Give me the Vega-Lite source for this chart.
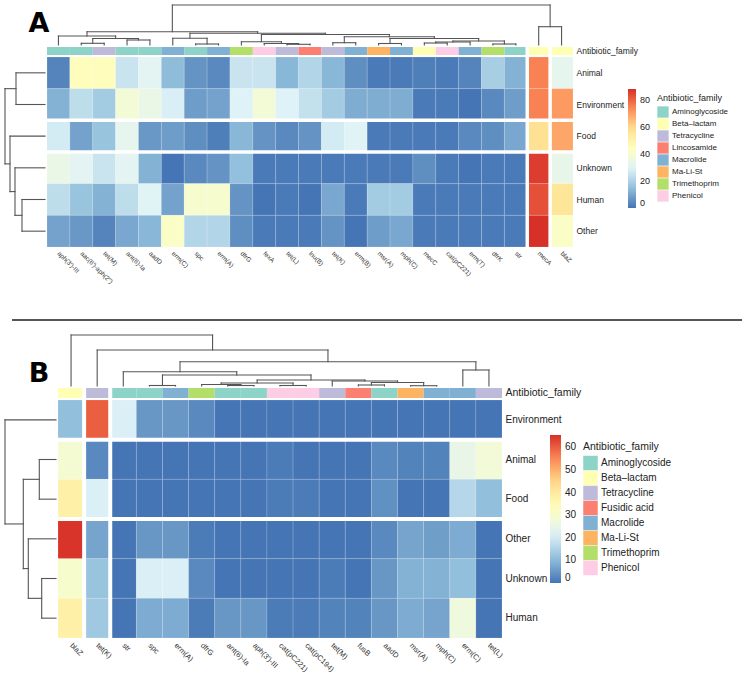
{
 "$schema": "https://vega.github.io/schema/vega-lite/v6.json",
 "padding": 0,
 "background": "white",
 "config": {
  "view": {"stroke": null},
  "font": "Liberation Sans",
  "axis": {"labelFont": "Liberation Sans", "labelColor": "#222222"},
  "legend": {"labelFont": "Liberation Sans", "titleFont": "Liberation Sans"}
 },
 "datasets": {
  "dendA_col": [
   {"p1":1.5,"h1":0,"p2":2.5,"h2":0,"H":1.7},
   {"p1":3.5,"h1":0,"p2":4.5,"h2":0,"H":5},
   {"p1":2.0,"h1":1.7,"p2":4.0,"h2":5,"H":6.5},
   {"p1":0.5,"h1":0,"p2":3.0,"h2":6.5,"H":9},
   {"p1":6.5,"h1":0,"p2":7.5,"h2":0,"H":1},
   {"p1":5.5,"h1":0,"p2":7.0,"h2":1,"H":6.7},
   {"p1":10.5,"h1":0,"p2":11.5,"h2":0,"H":0.7},
   {"p1":9.5,"h1":0,"p2":11.0,"h2":0.7,"H":1.5},
   {"p1":8.5,"h1":0,"p2":10.25,"h2":1.5,"H":3.3},
   {"p1":12.5,"h1":0,"p2":13.5,"h2":0,"H":2.3},
   {"p1":14.5,"h1":0,"p2":15.5,"h2":0,"H":1.5},
   {"p1":16.5,"h1":0,"p2":17.5,"h2":0,"H":2},
   {"p1":17.0,"h1":2,"p2":18.5,"h2":0,"H":3},
   {"p1":19.5,"h1":0,"p2":20.5,"h2":0,"H":1},
   {"p1":17.75,"h1":3,"p2":20.0,"h2":1,"H":4},
   {"p1":15.0,"h1":1.5,"p2":18.875,"h2":4,"H":6.5},
   {"p1":13.0,"h1":2.3,"p2":16.9375,"h2":6.5,"H":8.3},
   {"p1":9.375,"h1":3.3,"p2":14.96875,"h2":8.3,"H":10.5},
   {"p1":6.25,"h1":6.7,"p2":12.171875,"h2":10.5,"H":11.7},
   {"p1":1.75,"h1":9,"p2":9.2109375,"h2":11.7,"H":13.3},
   {"p1":21.5,"h1":0,"p2":22.5,"h2":0,"H":18.3},
   {"p1":5.48046875,"h1":13.3,"p2":22.0,"h2":18.3,"H":40}
  ],
  "dendA_row": [
   {"p1":0.5,"h1":0,"p2":1.5,"h2":0,"H":29},
   {"p1":4.5,"h1":0,"p2":5.5,"h2":0,"H":23},
   {"p1":3.5,"h1":0,"p2":5.0,"h2":23,"H":30},
   {"p1":2.5,"h1":0,"p2":4.25,"h2":30,"H":35},
   {"p1":1.0,"h1":29,"p2":3.375,"h2":35,"H":40}
  ],
  "dendB_col": [
   {"p1":3.5,"h1":0,"p2":4.5,"h2":0,"H":0.5},
   {"p1":6.5,"h1":0,"p2":7.5,"h2":0,"H":0.5},
   {"p1":5.5,"h1":0,"p2":7.0,"h2":0.5,"H":1.5},
   {"p1":8.5,"h1":0,"p2":9.5,"h2":0,"H":0.5},
   {"p1":6.25,"h1":1.5,"p2":9.0,"h2":0.5,"H":3},
   {"p1":11.5,"h1":0,"p2":12.5,"h2":0,"H":1},
   {"p1":13.5,"h1":0,"p2":14.5,"h2":0,"H":0.3},
   {"p1":12.0,"h1":1,"p2":14.0,"h2":0.3,"H":3.5},
   {"p1":10.5,"h1":0,"p2":13.0,"h2":3.5,"H":5},
   {"p1":7.625,"h1":3,"p2":11.75,"h2":5,"H":6},
   {"p1":4.0,"h1":0.5,"p2":9.6875,"h2":6,"H":11},
   {"p1":2.5,"h1":0,"p2":6.84375,"h2":11,"H":14.3},
   {"p1":15.5,"h1":0,"p2":16.5,"h2":0,"H":16},
   {"p1":4.671875,"h1":14.3,"p2":16.0,"h2":16,"H":24.3},
   {"p1":1.5,"h1":0,"p2":10.3359375,"h2":24.3,"H":36},
   {"p1":0.5,"h1":0,"p2":5.91796875,"h2":36,"H":51}
  ],
  "dendB_row": [
   {"p1":1.5,"h1":0,"p2":2.5,"h2":0,"H":16.7},
   {"p1":4.5,"h1":0,"p2":5.5,"h2":0,"H":14.3},
   {"p1":3.5,"h1":0,"p2":5.0,"h2":14.3,"H":27.7},
   {"p1":2.0,"h1":16.7,"p2":4.25,"h2":27.7,"H":32.7},
   {"p1":0.5,"h1":0,"p2":3.125,"h2":32.7,"H":51}
  ],
  "splitA_col": [{"gene":"str"},{"gene":"mecA"}],
  "splitA_row": [{"source":"Environment"},{"source":"Food"}],
  "splitB_col": [{"gene":"blaZ"},{"gene":"tet(K)"}],
  "splitB_row": [{"source":"Environment"},{"source":"Food"}],
  "annA": [
   {"gene":"aph(3')-III","family":"Aminoglycoside"},
   {"gene":"aac(6')-aph(2'')","family":"Aminoglycoside"},
   {"gene":"tet(M)","family":"Tetracycline"},
   {"gene":"ant(6)-Ia","family":"Aminoglycoside"},
   {"gene":"aadD","family":"Aminoglycoside"},
   {"gene":"erm(C)","family":"Macrolide"},
   {"gene":"spc","family":"Aminoglycoside"},
   {"gene":"erm(A)","family":"Macrolide"},
   {"gene":"dfrG","family":"Trimethoprim"},
   {"gene":"fexA","family":"Phenicol"},
   {"gene":"tet(L)","family":"Tetracycline"},
   {"gene":"lnu(B)","family":"Lincosamide"},
   {"gene":"tet(K)","family":"Tetracycline"},
   {"gene":"erm(B)","family":"Macrolide"},
   {"gene":"msr(A)","family":"Ma-Li-St"},
   {"gene":"mph(C)","family":"Macrolide"},
   {"gene":"mecC","family":"Beta–lactam"},
   {"gene":"cat(pC221)","family":"Phenicol"},
   {"gene":"erm(T)","family":"Macrolide"},
   {"gene":"dfrK","family":"Trimethoprim"},
   {"gene":"str","family":"Aminoglycoside"},
   {"gene":"mecA","family":"Beta–lactam"},
   {"gene":"blaZ","family":"Beta–lactam"}
  ],
  "annB": [
   {"gene":"blaZ","family":"Beta–lactam"},
   {"gene":"tet(K)","family":"Tetracycline"},
   {"gene":"str","family":"Aminoglycoside"},
   {"gene":"spc","family":"Aminoglycoside"},
   {"gene":"erm(A)","family":"Macrolide"},
   {"gene":"dfrG","family":"Trimethoprim"},
   {"gene":"ant(6)-Ia","family":"Aminoglycoside"},
   {"gene":"aph(3')-III","family":"Aminoglycoside"},
   {"gene":"cat(pC221)","family":"Phenicol"},
   {"gene":"cat(pC194)","family":"Phenicol"},
   {"gene":"tet(M)","family":"Tetracycline"},
   {"gene":"fusB","family":"Fusidic acid"},
   {"gene":"aadD","family":"Aminoglycoside"},
   {"gene":"msr(A)","family":"Ma-Li-St"},
   {"gene":"mph(C)","family":"Macrolide"},
   {"gene":"erm(C)","family":"Macrolide"},
   {"gene":"tet(L)","family":"Tetracycline"}
  ],
  "hmA": [
   {"source":"Animal","gene":"aph(3')-III","value":3},
   {"source":"Animal","gene":"aac(6')-aph(2'')","value":45},
   {"source":"Animal","gene":"tet(M)","value":45},
   {"source":"Animal","gene":"ant(6)-Ia","value":25},
   {"source":"Animal","gene":"aadD","value":31},
   {"source":"Animal","gene":"erm(C)","value":14},
   {"source":"Animal","gene":"spc","value":6},
   {"source":"Animal","gene":"erm(A)","value":4},
   {"source":"Animal","gene":"dfrG","value":25},
   {"source":"Animal","gene":"fexA","value":25},
   {"source":"Animal","gene":"tet(L)","value":13},
   {"source":"Animal","gene":"lnu(B)","value":21},
   {"source":"Animal","gene":"tet(K)","value":13},
   {"source":"Animal","gene":"erm(B)","value":5},
   {"source":"Animal","gene":"msr(A)","value":1},
   {"source":"Animal","gene":"mph(C)","value":1},
   {"source":"Animal","gene":"mecC","value":2},
   {"source":"Animal","gene":"cat(pC221)","value":1},
   {"source":"Animal","gene":"erm(T)","value":3},
   {"source":"Animal","gene":"dfrK","value":19},
   {"source":"Animal","gene":"str","value":12},
   {"source":"Animal","gene":"mecA","value":75},
   {"source":"Animal","gene":"blaZ","value":32},
   {"source":"Environment","gene":"aph(3')-III","value":12},
   {"source":"Environment","gene":"aac(6')-aph(2'')","value":23},
   {"source":"Environment","gene":"tet(M)","value":18},
   {"source":"Environment","gene":"ant(6)-Ia","value":38},
   {"source":"Environment","gene":"aadD","value":34},
   {"source":"Environment","gene":"erm(C)","value":28},
   {"source":"Environment","gene":"spc","value":8},
   {"source":"Environment","gene":"erm(A)","value":9},
   {"source":"Environment","gene":"dfrG","value":29},
   {"source":"Environment","gene":"fexA","value":38},
   {"source":"Environment","gene":"tet(L)","value":29},
   {"source":"Environment","gene":"lnu(B)","value":24},
   {"source":"Environment","gene":"tet(K)","value":18},
   {"source":"Environment","gene":"erm(B)","value":11},
   {"source":"Environment","gene":"msr(A)","value":11},
   {"source":"Environment","gene":"mph(C)","value":11},
   {"source":"Environment","gene":"mecC","value":1},
   {"source":"Environment","gene":"cat(pC221)","value":1},
   {"source":"Environment","gene":"erm(T)","value":0},
   {"source":"Environment","gene":"dfrK","value":4},
   {"source":"Environment","gene":"str","value":8},
   {"source":"Environment","gene":"mecA","value":75},
   {"source":"Environment","gene":"blaZ","value":71},
   {"source":"Food","gene":"aph(3')-III","value":27},
   {"source":"Food","gene":"aac(6')-aph(2'')","value":9},
   {"source":"Food","gene":"tet(M)","value":16},
   {"source":"Food","gene":"ant(6)-Ia","value":32},
   {"source":"Food","gene":"aadD","value":7},
   {"source":"Food","gene":"erm(C)","value":8},
   {"source":"Food","gene":"spc","value":5},
   {"source":"Food","gene":"erm(A)","value":2},
   {"source":"Food","gene":"dfrG","value":13},
   {"source":"Food","gene":"fexA","value":6},
   {"source":"Food","gene":"tet(L)","value":4},
   {"source":"Food","gene":"lnu(B)","value":6},
   {"source":"Food","gene":"tet(K)","value":27},
   {"source":"Food","gene":"erm(B)","value":30},
   {"source":"Food","gene":"msr(A)","value":1},
   {"source":"Food","gene":"mph(C)","value":1},
   {"source":"Food","gene":"mecC","value":1},
   {"source":"Food","gene":"cat(pC221)","value":1},
   {"source":"Food","gene":"erm(T)","value":4},
   {"source":"Food","gene":"dfrK","value":5},
   {"source":"Food","gene":"str","value":10},
   {"source":"Food","gene":"mecA","value":58},
   {"source":"Food","gene":"blaZ","value":69},
   {"source":"Unknown","gene":"aph(3')-III","value":34},
   {"source":"Unknown","gene":"aac(6')-aph(2'')","value":31},
   {"source":"Unknown","gene":"tet(M)","value":25},
   {"source":"Unknown","gene":"ant(6)-Ia","value":31},
   {"source":"Unknown","gene":"aadD","value":12},
   {"source":"Unknown","gene":"erm(C)","value":0},
   {"source":"Unknown","gene":"spc","value":4},
   {"source":"Unknown","gene":"erm(A)","value":6},
   {"source":"Unknown","gene":"dfrG","value":15},
   {"source":"Unknown","gene":"fexA","value":1},
   {"source":"Unknown","gene":"tet(L)","value":1},
   {"source":"Unknown","gene":"lnu(B)","value":1},
   {"source":"Unknown","gene":"tet(K)","value":1},
   {"source":"Unknown","gene":"erm(B)","value":1},
   {"source":"Unknown","gene":"msr(A)","value":1},
   {"source":"Unknown","gene":"mph(C)","value":1},
   {"source":"Unknown","gene":"mecC","value":5},
   {"source":"Unknown","gene":"cat(pC221)","value":1},
   {"source":"Unknown","gene":"erm(T)","value":0},
   {"source":"Unknown","gene":"dfrK","value":1},
   {"source":"Unknown","gene":"str","value":1},
   {"source":"Unknown","gene":"mecA","value":86},
   {"source":"Unknown","gene":"blaZ","value":33},
   {"source":"Human","gene":"aph(3')-III","value":23},
   {"source":"Human","gene":"aac(6')-aph(2'')","value":16},
   {"source":"Human","gene":"tet(M)","value":12},
   {"source":"Human","gene":"ant(6)-Ia","value":23},
   {"source":"Human","gene":"aadD","value":30},
   {"source":"Human","gene":"erm(C)","value":9},
   {"source":"Human","gene":"spc","value":40},
   {"source":"Human","gene":"erm(A)","value":40},
   {"source":"Human","gene":"dfrG","value":6},
   {"source":"Human","gene":"fexA","value":0},
   {"source":"Human","gene":"tet(L)","value":1},
   {"source":"Human","gene":"lnu(B)","value":0},
   {"source":"Human","gene":"tet(K)","value":10},
   {"source":"Human","gene":"erm(B)","value":1},
   {"source":"Human","gene":"msr(A)","value":18},
   {"source":"Human","gene":"mph(C)","value":18},
   {"source":"Human","gene":"mecC","value":1},
   {"source":"Human","gene":"cat(pC221)","value":1},
   {"source":"Human","gene":"erm(T)","value":1},
   {"source":"Human","gene":"dfrK","value":1},
   {"source":"Human","gene":"str","value":1},
   {"source":"Human","gene":"mecA","value":83},
   {"source":"Human","gene":"blaZ","value":56},
   {"source":"Other","gene":"aph(3')-III","value":9},
   {"source":"Other","gene":"aac(6')-aph(2'')","value":7},
   {"source":"Other","gene":"tet(M)","value":3},
   {"source":"Other","gene":"ant(6)-Ia","value":10},
   {"source":"Other","gene":"aadD","value":13},
   {"source":"Other","gene":"erm(C)","value":42},
   {"source":"Other","gene":"spc","value":21},
   {"source":"Other","gene":"erm(A)","value":21},
   {"source":"Other","gene":"dfrG","value":5},
   {"source":"Other","gene":"fexA","value":1},
   {"source":"Other","gene":"tet(L)","value":1},
   {"source":"Other","gene":"lnu(B)","value":1},
   {"source":"Other","gene":"tet(K)","value":6},
   {"source":"Other","gene":"erm(B)","value":0},
   {"source":"Other","gene":"msr(A)","value":8},
   {"source":"Other","gene":"mph(C)","value":10},
   {"source":"Other","gene":"mecC","value":1},
   {"source":"Other","gene":"cat(pC221)","value":1},
   {"source":"Other","gene":"erm(T)","value":1},
   {"source":"Other","gene":"dfrK","value":1},
   {"source":"Other","gene":"str","value":1},
   {"source":"Other","gene":"mecA","value":88},
   {"source":"Other","gene":"blaZ","value":42}
  ],
  "hmB": [
   {"source":"Environment","gene":"blaZ","value":11},
   {"source":"Environment","gene":"tet(K)","value":60},
   {"source":"Environment","gene":"str","value":21},
   {"source":"Environment","gene":"spc","value":5},
   {"source":"Environment","gene":"erm(A)","value":5},
   {"source":"Environment","gene":"dfrG","value":3},
   {"source":"Environment","gene":"ant(6)-Ia","value":0},
   {"source":"Environment","gene":"aph(3')-III","value":0},
   {"source":"Environment","gene":"cat(pC221)","value":0},
   {"source":"Environment","gene":"cat(pC194)","value":0},
   {"source":"Environment","gene":"tet(M)","value":0},
   {"source":"Environment","gene":"fusB","value":0},
   {"source":"Environment","gene":"aadD","value":0},
   {"source":"Environment","gene":"msr(A)","value":0},
   {"source":"Environment","gene":"mph(C)","value":0},
   {"source":"Environment","gene":"erm(C)","value":0},
   {"source":"Environment","gene":"tet(L)","value":0},
   {"source":"Animal","gene":"blaZ","value":29},
   {"source":"Animal","gene":"tet(K)","value":3},
   {"source":"Animal","gene":"str","value":0},
   {"source":"Animal","gene":"spc","value":0},
   {"source":"Animal","gene":"erm(A)","value":0},
   {"source":"Animal","gene":"dfrG","value":0},
   {"source":"Animal","gene":"ant(6)-Ia","value":0},
   {"source":"Animal","gene":"aph(3')-III","value":0},
   {"source":"Animal","gene":"cat(pC221)","value":1},
   {"source":"Animal","gene":"cat(pC194)","value":0},
   {"source":"Animal","gene":"tet(M)","value":0},
   {"source":"Animal","gene":"fusB","value":0},
   {"source":"Animal","gene":"aadD","value":3},
   {"source":"Animal","gene":"msr(A)","value":2},
   {"source":"Animal","gene":"mph(C)","value":2},
   {"source":"Animal","gene":"erm(C)","value":25},
   {"source":"Animal","gene":"tet(L)","value":28},
   {"source":"Food","gene":"blaZ","value":38},
   {"source":"Food","gene":"tet(K)","value":21},
   {"source":"Food","gene":"str","value":0},
   {"source":"Food","gene":"spc","value":0},
   {"source":"Food","gene":"erm(A)","value":0},
   {"source":"Food","gene":"dfrG","value":0},
   {"source":"Food","gene":"ant(6)-Ia","value":0},
   {"source":"Food","gene":"aph(3')-III","value":0},
   {"source":"Food","gene":"cat(pC221)","value":1},
   {"source":"Food","gene":"cat(pC194)","value":1},
   {"source":"Food","gene":"tet(M)","value":0},
   {"source":"Food","gene":"fusB","value":0},
   {"source":"Food","gene":"aadD","value":4},
   {"source":"Food","gene":"msr(A)","value":0},
   {"source":"Food","gene":"mph(C)","value":0},
   {"source":"Food","gene":"erm(C)","value":16},
   {"source":"Food","gene":"tet(L)","value":11},
   {"source":"Other","gene":"blaZ","value":65},
   {"source":"Other","gene":"tet(K)","value":7},
   {"source":"Other","gene":"str","value":0},
   {"source":"Other","gene":"spc","value":5},
   {"source":"Other","gene":"erm(A)","value":5},
   {"source":"Other","gene":"dfrG","value":1},
   {"source":"Other","gene":"ant(6)-Ia","value":0},
   {"source":"Other","gene":"aph(3')-III","value":0},
   {"source":"Other","gene":"cat(pC221)","value":0},
   {"source":"Other","gene":"cat(pC194)","value":0},
   {"source":"Other","gene":"tet(M)","value":0},
   {"source":"Other","gene":"fusB","value":0},
   {"source":"Other","gene":"aadD","value":3},
   {"source":"Other","gene":"msr(A)","value":7},
   {"source":"Other","gene":"mph(C)","value":6},
   {"source":"Other","gene":"erm(C)","value":8},
   {"source":"Other","gene":"tet(L)","value":0},
   {"source":"Unknown","gene":"blaZ","value":30},
   {"source":"Unknown","gene":"tet(K)","value":12},
   {"source":"Unknown","gene":"str","value":0},
   {"source":"Unknown","gene":"spc","value":21},
   {"source":"Unknown","gene":"erm(A)","value":21},
   {"source":"Unknown","gene":"dfrG","value":3},
   {"source":"Unknown","gene":"ant(6)-Ia","value":0},
   {"source":"Unknown","gene":"aph(3')-III","value":0},
   {"source":"Unknown","gene":"cat(pC221)","value":0},
   {"source":"Unknown","gene":"cat(pC194)","value":0},
   {"source":"Unknown","gene":"tet(M)","value":1},
   {"source":"Unknown","gene":"fusB","value":0},
   {"source":"Unknown","gene":"aadD","value":5},
   {"source":"Unknown","gene":"msr(A)","value":9},
   {"source":"Unknown","gene":"mph(C)","value":9},
   {"source":"Unknown","gene":"erm(C)","value":11},
   {"source":"Unknown","gene":"tet(L)","value":0},
   {"source":"Human","gene":"blaZ","value":38},
   {"source":"Human","gene":"tet(K)","value":13},
   {"source":"Human","gene":"str","value":0},
   {"source":"Human","gene":"spc","value":8},
   {"source":"Human","gene":"erm(A)","value":8},
   {"source":"Human","gene":"dfrG","value":1},
   {"source":"Human","gene":"ant(6)-Ia","value":5},
   {"source":"Human","gene":"aph(3')-III","value":5},
   {"source":"Human","gene":"cat(pC221)","value":1},
   {"source":"Human","gene":"cat(pC194)","value":1},
   {"source":"Human","gene":"tet(M)","value":2},
   {"source":"Human","gene":"fusB","value":2},
   {"source":"Human","gene":"aadD","value":5},
   {"source":"Human","gene":"msr(A)","value":8},
   {"source":"Human","gene":"mph(C)","value":7},
   {"source":"Human","gene":"erm(C)","value":27},
   {"source":"Human","gene":"tet(L)","value":0}
  ]
 },
 "columns": 2,
 "spacing": 2,
 "align": "none",
 "bounds": "flush",
 "resolve": {"scale": {"color": "independent", "fill": "independent"}},
 "concat": [
  {"width": 45, "height": 45, "data": {"values": [{"label": "A"}]},
   "mark": {"type": "text", "fontSize": 27, "fontWeight": "bold", "align": "center", "baseline": "alphabetic", "color": "#000000", "font": "DejaVu Sans"},
   "encoding": {"text": {"field": "label", "type": "nominal"},
    "x": {"datum": 0.867, "type": "quantitative", "scale": {"domain": [0, 1]}, "axis": null},
    "y": {"datum": 0.29, "type": "quantitative", "scale": {"domain": [0, 1]}, "axis": null}}},
  {"width": 526, "height": 45, "data": {"name": "dendA_col"},
   "layer": [
    {"mark": {"type": "rule", "color": "#555555", "strokeWidth": 1.1, "strokeCap": "square"},
     "encoding": {"x": {"field": "p1", "type": "quantitative", "scale": {"domain": [0, 23], "nice": false, "zero": false}, "axis": null},
      "x2": {"field": "p2"},
      "y": {"field": "H", "type": "quantitative", "scale": {"domain": [0, 45], "nice": false, "zero": false}, "axis": null}}},
    {"mark": {"type": "rule", "color": "#555555", "strokeWidth": 1.1, "strokeCap": "square"},
     "encoding": {"x": {"field": "p1", "type": "quantitative", "scale": {"domain": [0, 23], "nice": false, "zero": false}, "axis": null},
      "y": {"field": "h1", "type": "quantitative", "scale": {"domain": [0, 45], "nice": false, "zero": false}, "axis": null},
      "y2": {"field": "H"}}},
    {"mark": {"type": "rule", "color": "#555555", "strokeWidth": 1.1, "strokeCap": "square"},
     "encoding": {"x": {"field": "p2", "type": "quantitative", "scale": {"domain": [0, 23], "nice": false, "zero": false}, "axis": null},
      "y": {"field": "h2", "type": "quantitative", "scale": {"domain": [0, 45], "nice": false, "zero": false}, "axis": null},
      "y2": {"field": "H"}}}
   ]},
  {"width": 45, "height": 8, "data": {"values": []}, "mark": "point"},
  {"width": 526, "height": 8,
   "layer": [
    {"data": {"name": "annA"}, "mark": {"type": "rect"},
     "encoding": {
      "x": {"field": "gene", "type": "nominal", "scale": {"type": "band", "domain": ["aph(3')-III","aac(6')-aph(2'')","tet(M)","ant(6)-Ia","aadD","erm(C)","spc","erm(A)","dfrG","fexA","tet(L)","lnu(B)","tet(K)","erm(B)","msr(A)","mph(C)","mecC","cat(pC221)","erm(T)","dfrK","str","mecA","blaZ"]}, "axis": null},
      "y": {"datum": "Antibiotic_family", "type": "nominal", "axis": {"orient": "right", "title": null, "ticks": false, "domain": false, "labelFontSize": 8.5, "labelPadding": 3, "labelColor": "#222222"}},
      "fill": {"field": "family", "type": "nominal",
       "scale": {"domain": ["Aminoglycoside","Beta–lactam","Tetracycline","Lincosamide","Macrolide","Ma-Li-St","Trimethoprim","Phenicol"], "range": ["#8dd3c7","#ffffb3","#bebada","#fb8072","#80b1d3","#fdb462","#b3de69","#fccde5"]},
       "legend": {"orient": "none", "legendX": 610, "legendY": 47, "title": "Antibiotic_family", "titleFontSize": 9, "titleFontWeight": "normal", "titleColor": "#222222", "titlePadding": 3, "labelFontSize": 8, "labelColor": "#222222", "symbolType": "square", "symbolSize": 128, "symbolStrokeWidth": 0, "symbolOpacity": 1, "rowPadding": 0, "labelOffset": 3, "symbolOffset": 0, "padding": 0}}}},
    {"data": {"name": "splitA_col"}, "mark": {"type": "rule", "color": "#ffffff", "strokeWidth": 3.5},
     "encoding": {"x": {"field": "gene", "type": "nominal", "bandPosition": 1, "scale": {"type": "band"}}}}
   ]},
  {"width": 45, "height": 190, "data": {"name": "dendA_row"},
   "layer": [
    {"mark": {"type": "rule", "color": "#555555", "strokeWidth": 1.1, "strokeCap": "square"},
     "encoding": {"x": {"field": "H", "type": "quantitative", "scale": {"domain": [0, 45], "reverse": true, "nice": false, "zero": false}, "axis": null},
      "y": {"field": "p1", "type": "quantitative", "scale": {"domain": [0, 6], "reverse": true, "nice": false, "zero": false}, "axis": null},
      "y2": {"field": "p2"}}},
    {"mark": {"type": "rule", "color": "#555555", "strokeWidth": 1.1, "strokeCap": "square"},
     "encoding": {"x": {"field": "h1", "type": "quantitative", "scale": {"domain": [0, 45], "reverse": true, "nice": false, "zero": false}, "axis": null},
      "x2": {"field": "H"},
      "y": {"field": "p1", "type": "quantitative", "scale": {"domain": [0, 6], "reverse": true, "nice": false, "zero": false}, "axis": null}}},
    {"mark": {"type": "rule", "color": "#555555", "strokeWidth": 1.1, "strokeCap": "square"},
     "encoding": {"x": {"field": "h2", "type": "quantitative", "scale": {"domain": [0, 45], "reverse": true, "nice": false, "zero": false}, "axis": null},
      "x2": {"field": "H"},
      "y": {"field": "p2", "type": "quantitative", "scale": {"domain": [0, 6], "reverse": true, "nice": false, "zero": false}, "axis": null}}}
   ]},
  {"width": 526, "height": 190,
   "layer": [
    {"data": {"name": "hmA"}, "mark": {"type": "rect", "stroke": "#ffffff", "strokeWidth": 0.5, "strokeOpacity": 0.3},
     "encoding": {
      "x": {"field": "gene", "type": "nominal", "scale": {"type": "band", "domain": ["aph(3')-III","aac(6')-aph(2'')","tet(M)","ant(6)-Ia","aadD","erm(C)","spc","erm(A)","dfrG","fexA","tet(L)","lnu(B)","tet(K)","erm(B)","msr(A)","mph(C)","mecC","cat(pC221)","erm(T)","dfrK","str","mecA","blaZ"]},
       "axis": {"orient": "bottom", "title": null, "ticks": false, "domain": false, "labelAngle": 45, "labelAlign": "left", "labelBaseline": "middle", "labelFontSize": 6.5, "labelPadding": 5, "labelOverlap": false, "labelColor": "#333333"}},
      "y": {"field": "source", "type": "nominal", "scale": {"type": "band", "domain": ["Animal","Environment","Food","Unknown","Human","Other"]},
       "axis": {"orient": "right", "title": null, "ticks": false, "domain": false, "labelFontSize": 8.5, "labelPadding": 3, "labelColor": "#222222"}},
      "color": {"field": "value", "type": "quantitative",
       "scale": {"domain": [0, 88], "range": ["#4575b4","#91bfdb","#e0f3f8","#ffffbf","#fee090","#fc8d59","#d73027"], "interpolate": "rgb"},
       "legend": {"orient": "none", "legendX": 581, "legendY": 32, "direction": "vertical", "title": null, "gradientLength": 119, "gradientThickness": 8, "gradientStrokeWidth": 0, "values": [0, 20, 40, 60, 80], "labelFontSize": 9, "labelOffset": 4, "labelColor": "#222222", "padding": 0}}}},
    {"data": {"name": "splitA_col"}, "mark": {"type": "rule", "color": "#ffffff", "strokeWidth": 3.5},
     "encoding": {"x": {"field": "gene", "type": "nominal", "bandPosition": 1, "scale": {"type": "band"}}}},
    {"data": {"name": "splitA_row"}, "mark": {"type": "rule", "color": "#ffffff", "strokeWidth": 3.5},
     "encoding": {"y": {"field": "source", "type": "nominal", "bandPosition": 1, "scale": {"type": "band"}}}}
   ]},
  {"width": 45, "height": 82, "data": {"values": [{}]},
   "mark": {"type": "rule", "color": "#555555", "strokeWidth": 2},
   "encoding": {"x": {"datum": 0.267, "type": "quantitative", "scale": {"domain": [0, 1]}, "axis": null},
    "x2": {"datum": 16.49},
    "y": {"datum": 0.134, "type": "quantitative", "scale": {"domain": [0, 1]}, "axis": null}}},
  {"width": 1, "height": 82, "data": {"values": []}, "mark": "point"},
  {"width": 45, "height": 53, "data": {"values": [{"label": "B"}]},
   "mark": {"type": "text", "fontSize": 27, "fontWeight": "bold", "align": "center", "baseline": "alphabetic", "color": "#000000", "font": "DejaVu Sans"},
   "encoding": {"text": {"field": "label", "type": "nominal"},
    "x": {"datum": 0.867, "type": "quantitative", "scale": {"domain": [0, 1]}, "axis": null},
    "y": {"datum": 0.081, "type": "quantitative", "scale": {"domain": [0, 1]}, "axis": null}}},
  {"width": 455, "height": 53, "data": {"name": "dendB_col"},
   "layer": [
    {"mark": {"type": "rule", "color": "#555555", "strokeWidth": 1.1, "strokeCap": "square"},
     "encoding": {"x": {"field": "p1", "type": "quantitative", "scale": {"domain": [-0.4212, 17], "nice": false, "zero": false}, "axis": null},
      "x2": {"field": "p2"},
      "y": {"field": "H", "type": "quantitative", "scale": {"domain": [0, 53], "nice": false, "zero": false}, "axis": null}}},
    {"mark": {"type": "rule", "color": "#555555", "strokeWidth": 1.1, "strokeCap": "square"},
     "encoding": {"x": {"field": "p1", "type": "quantitative", "scale": {"domain": [-0.4212, 17], "nice": false, "zero": false}, "axis": null},
      "y": {"field": "h1", "type": "quantitative", "scale": {"domain": [0, 53], "nice": false, "zero": false}, "axis": null},
      "y2": {"field": "H"}}},
    {"mark": {"type": "rule", "color": "#555555", "strokeWidth": 1.1, "strokeCap": "square"},
     "encoding": {"x": {"field": "p2", "type": "quantitative", "scale": {"domain": [-0.4212, 17], "nice": false, "zero": false}, "axis": null},
      "y": {"field": "h2", "type": "quantitative", "scale": {"domain": [0, 53], "nice": false, "zero": false}, "axis": null},
      "y2": {"field": "H"}}}
   ]},
  {"width": 45, "height": 10, "data": {"values": []}, "mark": "point"},
  {"width": 455, "height": 10,
   "layer": [
    {"data": {"name": "annB"}, "mark": {"type": "rect"},
     "encoding": {
      "x": {"field": "gene", "type": "nominal", "scale": {"type": "band", "paddingInner": 0, "paddingOuter": 0.2106, "align": 1, "domain": ["blaZ","tet(K)","str","spc","erm(A)","dfrG","ant(6)-Ia","aph(3')-III","cat(pC221)","cat(pC194)","tet(M)","fusB","aadD","msr(A)","mph(C)","erm(C)","tet(L)"]}, "axis": null},
      "y": {"datum": "Antibiotic_family", "type": "nominal", "axis": {"orient": "right", "title": null, "ticks": false, "domain": false, "labelFontSize": 10.5, "labelPadding": 3, "labelColor": "#222222"}},
      "fill": {"field": "family", "type": "nominal",
       "scale": {"domain": ["Aminoglycoside","Beta–lactam","Tetracycline","Fusidic acid","Macrolide","Ma-Li-St","Trimethoprim","Phenicol"], "range": ["#8dd3c7","#ffffb3","#bebada","#fb8072","#80b1d3","#fdb462","#b3de69","#fccde5"]},
       "legend": {"orient": "none", "legendX": 536, "legendY": 54, "title": "Antibiotic_family", "titleFontSize": 10.5, "titleFontWeight": "normal", "titleColor": "#222222", "titlePadding": 3, "labelFontSize": 10, "labelColor": "#222222", "symbolType": "square", "symbolSize": 210, "symbolStrokeWidth": 0, "symbolOpacity": 1, "rowPadding": 0, "labelOffset": 3, "symbolOffset": 0, "padding": 0}}}},
    {"data": {"name": "splitB_col"}, "mark": {"type": "rule", "color": "#ffffff", "strokeWidth": 4},
     "encoding": {"x": {"field": "gene", "type": "nominal", "bandPosition": 1, "scale": {"type": "band"}}}}
   ]},
  {"width": 45, "height": 238, "data": {"name": "dendB_row"},
   "layer": [
    {"mark": {"type": "rule", "color": "#555555", "strokeWidth": 1.1, "strokeCap": "square"},
     "encoding": {"x": {"field": "H", "type": "quantitative", "scale": {"domain": [11, 56], "reverse": true, "nice": false, "zero": false}, "axis": null},
      "y": {"field": "p1", "type": "quantitative", "scale": {"domain": [0, 6], "reverse": true, "nice": false, "zero": false}, "axis": null},
      "y2": {"field": "p2"}}},
    {"mark": {"type": "rule", "color": "#555555", "strokeWidth": 1.1, "strokeCap": "square"},
     "encoding": {"x": {"field": "h1", "type": "quantitative", "scale": {"domain": [11, 56], "reverse": true, "nice": false, "zero": false}, "axis": null},
      "x2": {"field": "H"},
      "y": {"field": "p1", "type": "quantitative", "scale": {"domain": [0, 6], "reverse": true, "nice": false, "zero": false}, "axis": null}}},
    {"mark": {"type": "rule", "color": "#555555", "strokeWidth": 1.1, "strokeCap": "square"},
     "encoding": {"x": {"field": "h2", "type": "quantitative", "scale": {"domain": [11, 56], "reverse": true, "nice": false, "zero": false}, "axis": null},
      "x2": {"field": "H"},
      "y": {"field": "p2", "type": "quantitative", "scale": {"domain": [0, 6], "reverse": true, "nice": false, "zero": false}, "axis": null}}}
   ]},
  {"width": 455, "height": 238,
   "layer": [
    {"data": {"name": "hmB"}, "mark": {"type": "rect", "stroke": "#ffffff", "strokeWidth": 0.5, "strokeOpacity": 0.3},
     "encoding": {
      "x": {"field": "gene", "type": "nominal", "scale": {"type": "band", "paddingInner": 0, "paddingOuter": 0.2106, "align": 1, "domain": ["blaZ","tet(K)","str","spc","erm(A)","dfrG","ant(6)-Ia","aph(3')-III","cat(pC221)","cat(pC194)","tet(M)","fusB","aadD","msr(A)","mph(C)","erm(C)","tet(L)"]},
       "axis": {"orient": "bottom", "title": null, "ticks": false, "domain": false, "labelAngle": 45, "labelAlign": "left", "labelBaseline": "middle", "labelFontSize": 7.5, "labelPadding": 6, "labelOverlap": false, "labelColor": "#333333"}},
      "y": {"field": "source", "type": "nominal", "scale": {"type": "band", "domain": ["Environment","Animal","Food","Other","Unknown","Human"]},
       "axis": {"orient": "right", "title": null, "ticks": false, "domain": false, "labelFontSize": 10, "labelPadding": 3, "labelColor": "#222222"}},
      "color": {"field": "value", "type": "quantitative",
       "scale": {"domain": [0, 65.5], "range": ["#4575b4","#91bfdb","#e0f3f8","#ffffbf","#fee090","#fc8d59","#d73027"], "interpolate": "rgb"},
       "legend": {"orient": "none", "legendX": 503, "legendY": 35, "direction": "vertical", "title": null, "gradientLength": 148, "gradientThickness": 11, "gradientStrokeWidth": 0, "values": [0, 10, 20, 30, 40, 50, 60], "labelFontSize": 10, "labelOffset": 4, "labelColor": "#222222", "padding": 0}}}},
    {"data": {"name": "splitB_col"}, "mark": {"type": "rule", "color": "#ffffff", "strokeWidth": 4},
     "encoding": {"x": {"field": "gene", "type": "nominal", "bandPosition": 1, "scale": {"type": "band"}}}},
    {"data": {"name": "splitB_row"}, "mark": {"type": "rule", "color": "#ffffff", "strokeWidth": 4},
     "encoding": {"y": {"field": "source", "type": "nominal", "bandPosition": 1, "scale": {"type": "band"}}}}
   ]}
 ]
}
